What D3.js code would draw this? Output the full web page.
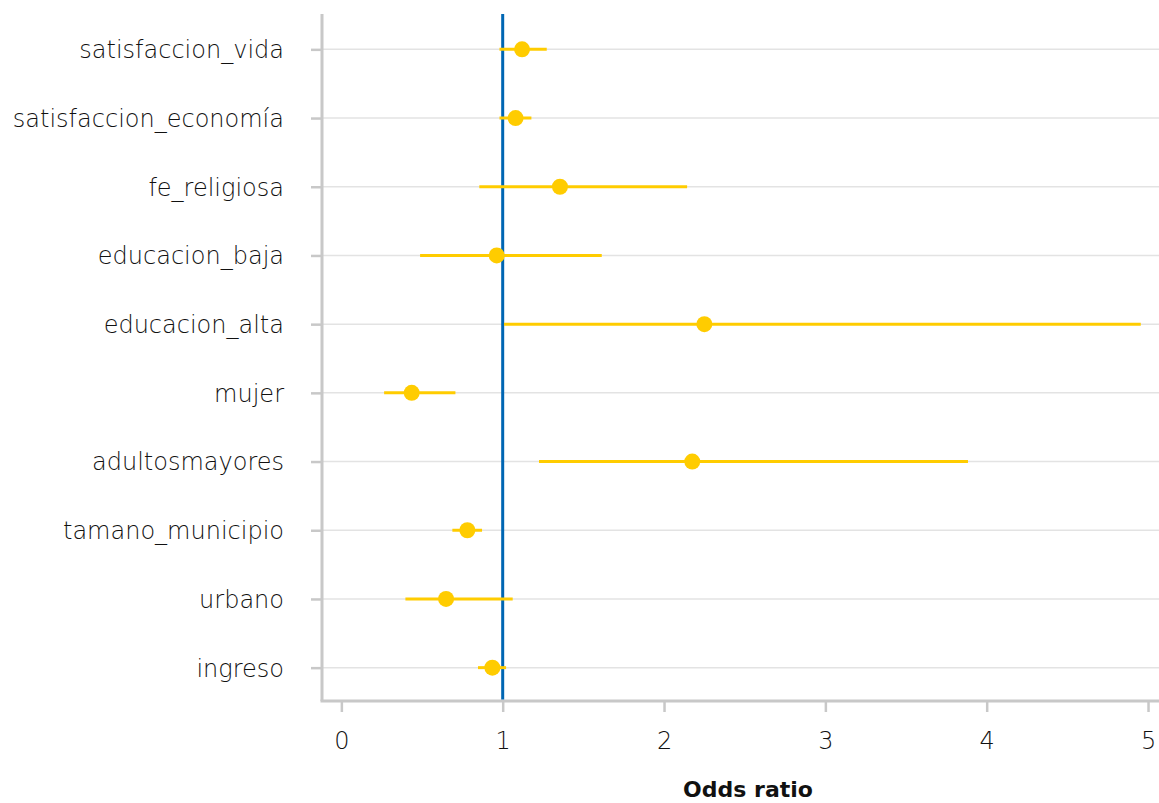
<!DOCTYPE html>
<html>
<head>
<meta charset="utf-8">
<script src="https://cdn.jsdelivr.net/npm/d3@7"></script>
<style>
  body { margin: 0; background: #fff; }
  svg text { font-family: "DejaVu Sans", "Noto Sans", sans-serif; fill: #111; }
</style>
</head>
<body>
<svg id="chart" width="1159" height="803"></svg>
<script>
const variables = ['satisfaccion_vida', 'satisfaccion_economía', 'fe_religiosa', 'educacion_baja',
  'educacion_alta', 'mujer', 'adultosmayores', 'tamano_municipio', 'urbano', 'ingreso'];
const oddsRatio = [1.12, 1.08, 1.355, 0.963, 2.25, 0.436, 2.175, 0.781, 0.649, 0.936];
const ciLow = [0.98, 0.98, 0.855, 0.488, 1.008, 0.265, 1.225, 0.688, 0.397, 0.847];
const ciHigh = [1.273, 1.178, 2.143, 1.614, 4.955, 0.707, 3.884, 0.872, 1.062, 1.021];
const xTicks = [0, 1, 2, 3, 4, 5];

const svg = d3.select('#chart');
const plotLeft = 322, plotRight = 1159, plotTop = 14, plotBottom = 701;

const rows = variables.map((v, i) => ({ name: v, est: oddsRatio[i], lo: ciLow[i], hi: ciHigh[i] }));

const x = d3.scaleLinear().domain([-0.12, 5.068]).range([plotLeft, plotRight]);
const y = d3.scalePoint().domain(variables).range([plotTop + 1, plotBottom + 1]).padding(0.5);

// grid lines
svg.append('g')
  .selectAll('line')
  .data(variables)
  .join('line')
  .attr('x1', plotLeft).attr('x2', plotRight)
  .attr('y1', d => y(d)).attr('y2', d => y(d))
  .attr('stroke', '#e3e3e3')
  .attr('stroke-width', 1.5);

// y axis
const yAxis = svg.append('g')
  .attr('transform', `translate(${plotLeft},0)`)
  .call(d3.axisLeft(y).tickSize(11).tickPadding(27));
yAxis.select('.domain').remove();
yAxis.selectAll('.tick line').attr('stroke', '#c8c8c8').attr('stroke-width', 2.5);
yAxis.selectAll('.tick text')
  .attr('font-size', 24)
  .attr('font-weight', 200)
  .attr('dy', '0.35em');

// x axis
const xAxis = svg.append('g')
  .attr('transform', `translate(0,${plotBottom})`)
  .call(d3.axisBottom(x).tickValues(xTicks).tickFormat(d3.format('d')).tickSize(11).tickPadding(20));
xAxis.select('.domain').remove();
xAxis.selectAll('.tick line').attr('stroke', '#c8c8c8').attr('stroke-width', 2.5);
xAxis.selectAll('.tick text').attr('font-size', 24).attr('font-weight', 200);

// axis lines
svg.append('line')
  .attr('x1', plotLeft).attr('x2', plotLeft).attr('y1', plotTop).attr('y2', plotBottom)
  .attr('stroke', '#c8c8c8').attr('stroke-width', 3);
svg.append('line')
  .attr('x1', plotLeft - 1.5).attr('x2', plotRight).attr('y1', plotBottom).attr('y2', plotBottom)
  .attr('stroke', '#c8c8c8').attr('stroke-width', 3);

// reference line at 1
svg.append('line')
  .attr('x1', x(1)).attr('x2', x(1)).attr('y1', plotTop).attr('y2', plotBottom - 1.5)
  .attr('stroke', '#0066b3').attr('stroke-width', 3);

// intervals
svg.append('g')
  .selectAll('line')
  .data(rows)
  .join('line')
  .attr('x1', d => x(d.lo)).attr('x2', d => x(d.hi))
  .attr('y1', d => y(d.name)).attr('y2', d => y(d.name))
  .attr('stroke', '#ffcc00')
  .attr('stroke-width', 3);

// points
svg.append('g')
  .selectAll('circle')
  .data(rows)
  .join('circle')
  .attr('cx', d => x(d.est))
  .attr('cy', d => y(d.name))
  .attr('r', 8)
  .attr('fill', '#ffcc00');

svg.append('text')
  .attr('x', 748).attr('y', 797)
  .attr('text-anchor', 'middle')
  .attr('font-size', 22)
  .attr('font-weight', 'bold')
  .text('Odds ratio');
</script>
</body>
</html>
